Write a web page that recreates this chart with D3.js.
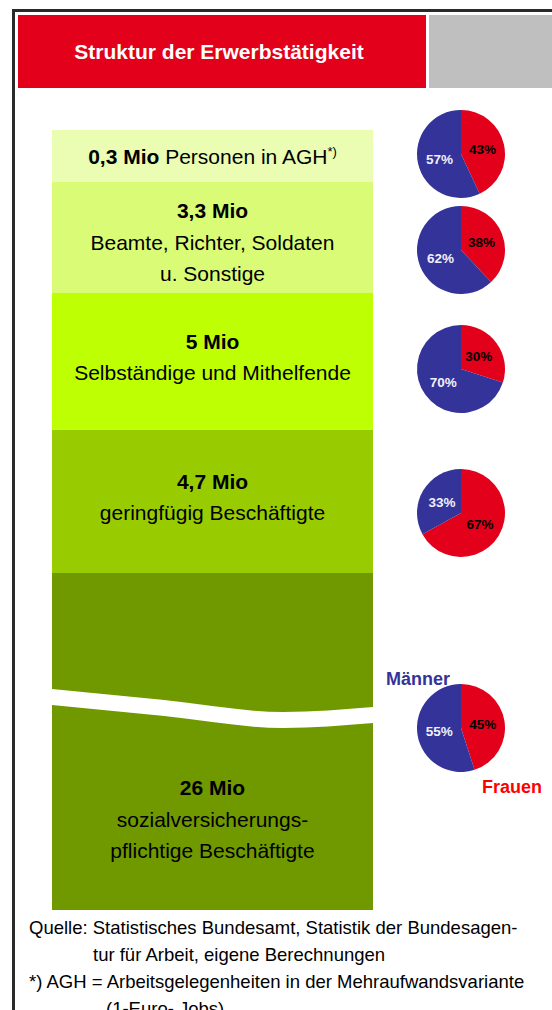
<!DOCTYPE html>
<html>
<head>
<meta charset="utf-8">
<script src="https://cdn.jsdelivr.net/npm/d3@7"></script>
<style>
  html, body { margin: 0; padding: 0; background: #fff; }
  svg { display: block; font-family: "Liberation Sans", Arial, sans-serif; }
</style>
</head>
<body>
<svg id="chart" width="552" height="1010"></svg>
<script>
// categories, top to bottom
const categories = ["agh", "beamte", "selbst", "gering", "svb"];
const values = [0.3, 3.3, 5, 4.7, 26];
const valueLabels = ["0,3 Mio", "3,3 Mio", "5 Mio", "4,7 Mio", "26 Mio"];
const descLines = [
  ["Personen in AGH"],
  ["Beamte, Richter, Soldaten", "u. Sonstige"],
  ["Selbständige und Mithelfende"],
  ["geringfügig Beschäftigte"],
  ["sozialversicherungs-", "pflichtige Beschäftigte"]
];
// share of women / men in percent
const frauenPct = [43, 38, 30, 67, 45];
const maennerPct = [57, 62, 70, 33, 55];

const title = "Struktur der Erwerbstätigkeit";
const footLines = [
  "Quelle: Statistisches Bundesamt, Statistik der Bundesagen-",
  "tur für Arbeit, eigene Berechnungen",
  "*) AGH = Arbeitsgelegenheiten in der Mehraufwandsvariante",
  "(1-Euro- Jobs)"
];

const barColor = d3.scaleOrdinal()
    .domain(categories)
    .range(["#eafdb3", "#dafb76", "#bfff04", "#99cc00", "#709900"]);
const RED = "#e2001a", BLUE = "#333399";

let chart = d3.select("#chart");

// frame
chart.append("path")
    .attr("d", "M13.5,1010 V10.5 H552")
    .attr("fill", "none")
    .attr("stroke", "#2a2a2a")
    .attr("stroke-width", 3);

// header
chart.append("rect").attr("x", 18).attr("y", 15).attr("width", 408).attr("height", 73).attr("fill", RED);
chart.append("rect").attr("x", 429).attr("y", 15).attr("width", 130).attr("height", 73).attr("fill", "#bfbfbf");
chart.append("text")
    .attr("x", 219).attr("y", 59)
    .attr("text-anchor", "middle")
    .attr("fill", "#fff")
    .attr("font-weight", "bold")
    .attr("font-size", "21px")
    .text(title);

// schematic (non proportional) vertical scale: cumulative values -> pixels
let cum = [0, ...d3.cumsum(values)];
let y = d3.scaleLinear()
    .domain(cum)
    .range([130, 182, 293, 430, 573, 910]);

let barX = 52, barW = 321;

let bars = chart.selectAll("rect.bar")
    .data(values).enter()
    .append("rect")
        .attr("class", "bar")
        .attr("x", barX)
        .attr("width", barW)
        .attr("y", function(d, i){ return y(cum[i]); })
        .attr("height", function(d, i){ return y(cum[i + 1]) - y(cum[i]); })
        .attr("fill", function(d, i){ return barColor(categories[i]); });

// axis break in the big bar
let last = values.length - 1;
let breakTop = y(cum[last]) + 116;
let brk = [[0, 0], [0.35, 11], [0.72, 23], [1, 18]];
let bx = d3.scaleLinear().domain([0, 1]).range([barX, barX + barW]);
chart.append("path")
    .attr("d", d3.area()
        .curve(d3.curveMonotoneX)
        .x(function(d){ return bx(d[0]); })
        .y0(function(d){ return breakTop + d[1]; })
        .y1(function(d){ return breakTop + d[1] + 16; })(brk))
    .attr("fill", "#fff");

// bar labels
let lineH = 31.5;
values.forEach(function(v, i){
    let top = y(cum[i]), bottom = y(cum[i + 1]);
    if (i === last) top = breakTop + 30;
    let c = (top + bottom) / 2;
    let g = chart.append("text")
        .attr("text-anchor", "middle")
        .attr("font-size", "21px")
        .attr("fill", "#000");
    if (i === 0) {
        let t = g.append("tspan").attr("x", barX + barW / 2).attr("y", c + 7.5);
        t.append("tspan").attr("font-weight", "bold").text(valueLabels[i]);
        t.append("tspan").text(" " + descLines[i][0]);
        t.append("tspan").attr("font-size", "13px").attr("dy", -8).text("*)");
        return;
    }
    let lines = [valueLabels[i]].concat(descLines[i]);
    let n = lines.length;
    let shift = (n - 2.5) * 9.5;
    lines.forEach(function(l, k){
        g.append("tspan")
            .attr("x", barX + barW / 2)
            .attr("y", c + shift + (k - (n - 1) / 2) * lineH + 7.5)
            .attr("font-weight", k === 0 ? "bold" : "normal")
            .text(l);
    });
});

// pies
let pieX = 461, pieR = 44;
let pieY = d3.scaleLinear().domain(d3.range(5)).range([154, 250, 369, 513, 728]);
let pie = d3.pie().sort(null);
let arc = d3.arc().innerRadius(0).outerRadius(pieR);

frauenPct.forEach(function(f, i){
    let g = chart.append("g").attr("transform", "translate(" + pieX + "," + pieY(i) + ")");
    let slices = pie([f, maennerPct[i]]);
    g.selectAll("path")
        .data(slices).enter()
        .append("path")
            .attr("d", arc)
            .attr("fill", function(d, j){ return j === 0 ? RED : BLUE; });
    g.selectAll("text")
        .data(slices).enter()
        .append("text")
            .attr("transform", function(d){ return "translate(" + arc.centroid(d) + ")"; })
            .attr("dy", "0.36em")
            .attr("text-anchor", "middle")
            .attr("font-size", "13.5px")
            .attr("font-weight", "bold")
            .attr("fill", function(d, j){ return j === 0 ? "#000" : "#f0f0f8"; })
            .text(function(d){ return d.data + "%"; });
});

// legend next to the last pie
let ly = pieY(4);
chart.append("text")
    .attr("x", pieX - 11).attr("y", ly - 43)
    .attr("text-anchor", "end")
    .attr("font-size", "18px").attr("font-weight", "bold")
    .attr("fill", BLUE)
    .text("Männer");
chart.append("text")
    .attr("x", pieX + 21).attr("y", ly + 65)
    .attr("font-size", "18px").attr("font-weight", "bold")
    .attr("fill", "#ff0000")
    .text("Frauen");

// source notes
let foot = chart.append("g").attr("font-size", "18.5px").attr("fill", "#000");
let footX = [29, 93, 29, 106];
footLines.forEach(function(l, k){
    foot.append("text")
        .attr("x", footX[k])
        .attr("y", 934 + k * 27)
        .text(l);
});
</script>
</body>
</html>
